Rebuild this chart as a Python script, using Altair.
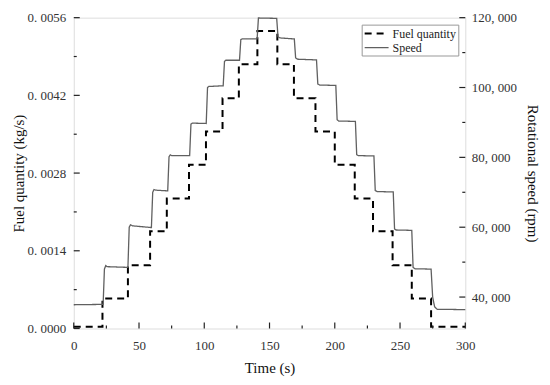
import altair as alt
import pandas as pd

# ---------------- data ----------------
fuel_t = [0, 22, 41.5, 58.5, 71.3, 88.3, 101.3, 114, 126.5, 140.7, 156, 168.7,
          185.2, 200, 215.3, 229.3, 244.3, 259, 273.8, 300]
fuel_v = [0.00003, 0.00054, 0.00114, 0.00175, 0.00234, 0.00295, 0.00355, 0.00415,
          0.00476, 0.00536, 0.00476, 0.00415, 0.00355, 0.00295, 0.00234, 0.00175,
          0.00114, 0.00054, 0.00003, 0.00003]

speed_t = [0, 22.5, 23.5, 24.5, 25.5, 41.5, 42.5, 43.5, 45, 59.5, 60.5, 61.5, 63,
           72, 73, 74, 75, 88.8, 89.8, 90.8, 101.5, 102.5, 103.5, 114.5, 115.5,
           116.5, 127, 128, 129, 140.5, 141.5, 155.5, 156.5, 158, 169, 170, 171.5,
           186, 187, 188.5, 200.8, 201.8, 203, 215.8, 216.8, 218, 230, 231, 232.5,
           244.8, 245.8, 247, 259, 260, 261.5, 273.8, 275, 276.5, 278.5, 300]
speed_v = [37800, 37900, 48000, 49000, 48700, 48500, 60000, 60700, 60400, 59900,
           70000, 70800, 70600, 70400, 80200, 80700, 80500, 80500, 89500, 89800,
           89700, 100000, 100300, 100500, 107500, 107800, 107800, 113700, 113900,
           113900, 119900, 119800, 114500, 114200, 113900, 108500, 108100, 107900,
           101000, 100700, 100600, 90800, 90400, 90300, 80800, 80500, 80400, 70500,
           70200, 70100, 59500, 59200, 59100, 48500, 48100, 48000, 40000, 37200,
           36500, 36400]

series = ["Fuel quantity", "Speed"]

x_major = [0, 50, 100, 150, 200, 250, 300]
x_minor = [25, 75, 125, 175, 225, 275]
fuel_major = [0, 0.0014, 0.0028, 0.0042, 0.0056]
fuel_minor = [0.0007, 0.0021, 0.0035, 0.0049]
speed_major = [40000, 60000, 80000, 100000, 120000]
speed_minor = [50000, 70000, 90000, 110000]

# ---------------- layout / style ----------------
W, H = 393, 312
FONT = "Liberation Serif"
MAJ, MIN = 6, 3

fuel_df = pd.DataFrame({"t": fuel_t, "v": fuel_v, "series": series[0]})
speed_df = pd.DataFrame({"t": speed_t, "v": speed_v, "series": series[1]})

xscale = alt.Scale(domain=[0, 300], nice=False)
fscale = alt.Scale(domain=[0, 0.0056], nice=False, zero=False)
sscale = alt.Scale(domain=[31000, 120000], nice=False, zero=False)

color = alt.Color("series:N", scale=alt.Scale(domain=series, range=["#000000", "#606060"]),
                  legend=alt.Legend(title=None, orient="none", legendX=289, legendY=7,
                                    symbolType="M-1,0H3", symbolSize=144,
                                    labelFont=FONT, labelFontSize=12, labelColor="#222",
                                    strokeColor="#999", padding=2, rowPadding=1,
                                    labelOffset=15, fillColor="white"))
dash = alt.StrokeDash("series:N", scale=alt.Scale(domain=series, range=[[7, 5], [1, 0]]),
                      legend=alt.Legend(title=None))
swidth = alt.StrokeWidth("series:N", scale=alt.Scale(domain=series, range=[2, 1.3]),
                         legend=alt.Legend(title=None))

common_axis = dict(labelFont=FONT, labelFontSize=13, labelColor="#333", titleFont=FONT,
                   titleFontSize=15, titleFontWeight="normal", titleColor="#111",
                   ticks=False, tickSize=0, domain=False, grid=False)

x_axis = alt.Axis(title="Time (s)", values=x_major, format="d", labelPadding=11,
                  labelFlush=False, titleY=39, titleBaseline="middle", **common_axis)

fuel_line = alt.Chart(fuel_df).mark_line(interpolate="step-after").encode(
    x=alt.X("t:Q", scale=xscale, axis=x_axis),
    y=alt.Y("v:Q", scale=fscale,
            axis=alt.Axis(title="Fuel quantity (kg/s)", orient="left", values=fuel_major,
                          labelExpr="replace(format(datum.value, '.4f'), '.', '. ')",
                          labelPadding=8, titleX=-55, titleY=H / 2,
                          titleBaseline="middle", **common_axis)),
    color=color, strokeDash=dash, strokeWidth=swidth,
)

speed_line = alt.Chart(speed_df).mark_line().encode(
    x=alt.X("t:Q", scale=xscale, axis=x_axis),
    y=alt.Y("v:Q", scale=sscale,
            axis=alt.Axis(title="Rotational speed (rpm)", orient="right", values=speed_major,
                          labelExpr="replace(format(datum.value, ','), ',', ', ')",
                          labelPadding=6, titleX=67, titleY=H / 2,
                          titleBaseline="middle", **common_axis)),
    color=color, strokeDash=dash, strokeWidth=swidth,
)


def xticks(vals, length):
    return alt.Chart(pd.DataFrame({"t": vals})).mark_rule(color="#222", strokeWidth=1.2).encode(
        x=alt.X("t:Q", scale=xscale, axis=x_axis),
        y=alt.value(H), y2=alt.value(H - length))


def yticks(vals, scale, x0, x1):
    return alt.Chart(pd.DataFrame({"v": vals})).mark_rule(color="#222", strokeWidth=1.2).encode(
        y=alt.Y("v:Q", scale=scale, axis=None),
        x=alt.value(x0), x2=alt.value(x1))


layers = [
    fuel_line, speed_line,
    xticks(x_major, MAJ), xticks(x_minor, MIN),
    yticks(fuel_major, fscale, 0, MAJ), yticks(fuel_minor, fscale, 0, MIN),
    yticks(speed_major, sscale, W, W - MAJ), yticks(speed_minor, sscale, W, W - MIN),
]

chart = alt.layer(*layers).resolve_scale(y="independent").properties(
    width=W, height=H,
    autosize=alt.AutoSizeParams(type="none"),
    padding={"left": 66, "top": 9, "right": 77, "bottom": 48},
).configure_view(stroke="#222", strokeWidth=1.3).configure(background="white")

chart.save("out.html", embed_options={"renderer": "svg", "actions": False})
